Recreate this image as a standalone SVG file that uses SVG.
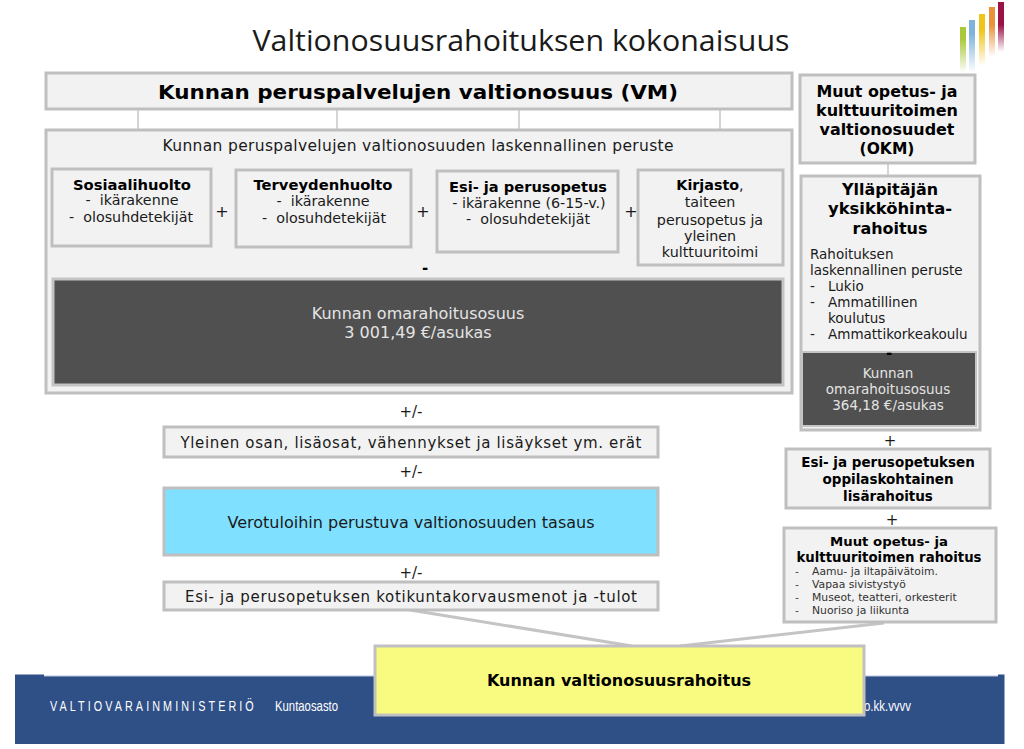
<svg xmlns="http://www.w3.org/2000/svg" width="1024" height="749" viewBox="0 0 1024 749">
<defs>
<linearGradient id="g1" x1="0" y1="0" x2="0" y2="1"><stop offset=".25" stop-color="#a9c93a"/><stop offset="1" stop-color="#a9c93a" stop-opacity="0"/></linearGradient>
<linearGradient id="g2" x1="0" y1="0" x2="0" y2="1"><stop offset=".25" stop-color="#7fb2dd"/><stop offset="1" stop-color="#7fb2dd" stop-opacity="0"/></linearGradient>
<linearGradient id="g3" x1="0" y1="0" x2="0" y2="1"><stop offset=".3" stop-color="#f0c419"/><stop offset="1" stop-color="#f0c419" stop-opacity="0"/></linearGradient>
<linearGradient id="g4" x1="0" y1="0" x2="0" y2="1"><stop offset=".35" stop-color="#e8923c"/><stop offset="1" stop-color="#e8923c" stop-opacity="0"/></linearGradient>
<linearGradient id="g5" x1="0" y1="0" x2="0" y2="1"><stop offset=".45" stop-color="#9b1246"/><stop offset="1" stop-color="#9b1246" stop-opacity="0"/></linearGradient>
</defs>
<style>
text{font-family:"DejaVu Sans",Verdana,sans-serif;fill:#1a1a1a;text-anchor:middle}
.box{fill:#f2f2f2;stroke:#bfbfbf;stroke-width:3}
.b{font-weight:bold;fill:#000}
.t14{font-size:14.3px}
.t13{font-size:13.5px}
.w{fill:#e4e4e4}
.s{text-anchor:start}
.conn{stroke:#c8c8c8;stroke-width:1.5;fill:none}
.wedge{stroke:#c4c4c4;stroke-width:3;fill:none}
.f{fill:#fff;text-anchor:start;font-family:"Liberation Sans",sans-serif}
</style>
<rect width="1024" height="749" fill="#fff"/>
<g id="logo">
<rect x="960" y="27" width="6" height="46" fill="url(#g1)"/>
<rect x="969" y="20" width="6" height="53" fill="url(#g2)"/>
<rect x="979" y="14" width="6" height="52" fill="url(#g3)"/>
<rect x="989" y="7" width="6" height="50" fill="url(#g4)"/>
<rect x="998" y="2" width="6" height="50" fill="url(#g5)"/>
</g>
<text id="title" x="521" y="51" font-size="29" textLength="537" lengthAdjust="spacingAndGlyphs" style="font-family:'Open Sans',sans-serif">Valtionosuusrahoituksen kokonaisuus</text>
<g id="footer">
<path d="M15 674.500H44V676H998V674.500H1004.500V744H15Z" fill="#2f4f87"/>
<path d="M44 676H998" stroke="#b9c6de" stroke-width="1"/>
<text class="f" transform="translate(50 711) scale(.72 1)" font-size="15" textLength="283">VALTIOVARAINMINISTERIÖ</text>
<text class="f" x="275" y="711" font-size="15" textLength="63" lengthAdjust="spacingAndGlyphs">Kuntaosasto</text>
<text class="f" x="864" y="711" font-size="15" textLength="47" lengthAdjust="spacingAndGlyphs">o.kk.vvvv</text>
</g>
<g id="connectors">
<path class="conn" d="M138 109V130M337 109V130M519 109V130M720 109V130M888 163V176"/>
<path class="wedge" d="M410 610L632 646M884 623L680 646"/>
</g>
<g id="n-top"><rect class="box" x="46" y="73" width="746" height="36"/>
<text class="b" x="418" y="99" font-size="20" textLength="520" lengthAdjust="spacingAndGlyphs">Kunnan peruspalvelujen valtionosuus (VM)</text></g>
<g id="n-base"><rect class="box" x="46" y="130" width="746" height="263"/>
<text x="418" y="151" font-size="15.500" textLength="511">Kunnan peruspalvelujen valtionosuuden laskennallinen peruste</text></g>
<g id="n-sos"><rect class="box" x="52" y="169" width="159" height="77"/>
<text class="b" x="132" y="190" font-size="14" textLength="118" lengthAdjust="spacingAndGlyphs">Sosiaalihuolto</text>
<text class="t14" x="132" y="205">-&#160; ikärakenne</text>
<text class="t14" x="131" y="222">-&#160; olosuhdetekijät</text></g>
<g id="n-ter"><rect class="box" x="236" y="170" width="175" height="77"/>
<text class="b" x="323" y="190" font-size="14" textLength="139" lengthAdjust="spacingAndGlyphs">Terveydenhuolto</text>
<text class="t14" x="323" y="206">-&#160; ikärakenne</text>
<text class="t14" x="324" y="223">-&#160; olosuhdetekijät</text></g>
<g id="n-esi"><rect class="box" x="437" y="171" width="181" height="81"/>
<text class="b" x="528" y="192" font-size="14" textLength="158" lengthAdjust="spacingAndGlyphs">Esi- ja perusopetus</text>
<text class="t14" x="529" y="208">- ikärakenne (6-15-v.)</text>
<text class="t14" x="528" y="224">-&#160; olosuhdetekijät</text></g>
<g id="n-kir"><rect class="box" x="638" y="170" width="145" height="95"/>
<text class="t14" x="710" y="190"><tspan class="b">Kirjasto</tspan>,</text>
<text class="t14" x="710" y="207">taiteen</text>
<text class="t14" x="710" y="225">perusopetus ja</text>
<text class="t14" x="710" y="241">yleinen</text>
<text class="t14" x="710" y="257">kulttuuritoimi</text></g>
<text x="222" y="217" font-size="16">+</text>
<text x="423" y="217" font-size="16">+</text>
<text x="631" y="217" font-size="16">+</text>
<text class="b" x="425" y="273" font-size="15">-</text>
<g id="n-oma"><rect x="53" y="279" width="730" height="106" fill="#505050" stroke="#c4c4c4" stroke-width="3"/>
<text class="w" x="418" y="319" font-size="16">Kunnan omarahoitusosuus</text>
<text class="w" x="418" y="338" font-size="16">3 001,49 €/asukas</text></g>
<text x="411" y="417" font-size="15">+/-</text>
<g id="n-yle"><rect class="box" x="164" y="427" width="494" height="30"/>
<text x="411" y="448" font-size="15" textLength="461">Yleinen osan, lisäosat, vähennykset ja lisäykset ym. erät</text></g>
<text x="411" y="477" font-size="15">+/-</text>
<g id="n-ver"><rect x="164" y="488" width="494" height="67" fill="#80e0ff" stroke="#bfbfbf" stroke-width="3"/>
<text x="411" y="528" font-size="16">Verotuloihin perustuva valtionosuuden tasaus</text></g>
<text x="411" y="578" font-size="15">+/-</text>
<g id="n-kot"><rect class="box" x="164" y="582" width="494" height="28"/>
<text x="411" y="602" font-size="15" textLength="452">Esi- ja perusopetuksen kotikuntakorvausmenot ja -tulot</text></g>
<g id="n-okm"><rect class="box" x="800" y="75" width="175" height="88"/>
<text class="b" x="887" y="97" font-size="15.500" textLength="141" lengthAdjust="spacingAndGlyphs">Muut opetus- ja</text>
<text class="b" x="887" y="116" font-size="15.500" textLength="142" lengthAdjust="spacingAndGlyphs">kulttuuritoimen</text>
<text class="b" x="887" y="135" font-size="15.500" textLength="135" lengthAdjust="spacingAndGlyphs">valtionosuudet</text>
<text class="b" x="887" y="154" font-size="15.500">(OKM)</text></g>
<g id="n-yks"><rect class="box" x="801" y="176" width="179" height="254"/>
<text class="b" x="890" y="195" font-size="15.500" textLength="96" lengthAdjust="spacingAndGlyphs">Ylläpitäjän</text>
<text class="b" x="890" y="214" font-size="15.500" textLength="124" lengthAdjust="spacingAndGlyphs">yksikköhinta-</text>
<text class="b" x="890" y="234" font-size="15.500" textLength="75" lengthAdjust="spacingAndGlyphs">rahoitus</text>
<text class="t13 s" x="810" y="259">Rahoituksen</text>
<text class="t13 s" x="810" y="275">laskennallinen peruste</text>
<text class="t13 s" x="810" y="291">-</text><text class="t13 s" x="828" y="291">Lukio</text>
<text class="t13 s" x="810" y="307">-</text><text class="t13 s" x="828" y="307">Ammatillinen</text>
<text class="t13 s" x="828" y="323">koulutus</text>
<text class="t13 s" x="810" y="339">-</text><text class="t13 s" x="828" y="339">Ammattikorkeakoulu</text></g>
<g id="n-oma2"><rect x="802" y="352" width="174" height="74" fill="#505050" stroke="#c4c4c4" stroke-width="2"/>
<text class="w t13" x="888" y="378">Kunnan</text>
<text class="w t13" x="888" y="394">omarahoitusosuus</text>
<text class="w t13" x="888" y="410">364,18 €/asukas</text></g>
<text class="b" x="889" y="358" font-size="15" style="clip-path:inset(0 0 4px 0)">-</text>
<text x="890" y="446" font-size="15">+</text>
<g id="n-lis"><rect class="box" x="786" y="449" width="204" height="59"/>
<text class="b t13" x="888" y="467">Esi- ja perusopetuksen</text>
<text class="b t13" x="888" y="484">oppilaskohtainen</text>
<text class="b t13" x="888" y="501">lisärahoitus</text></g>
<text x="892" y="525" font-size="15">+</text>
<g id="n-muu"><rect class="box" x="784" y="528" width="212" height="94"/>
<text class="b" x="889" y="546" font-size="13" textLength="118" lengthAdjust="spacingAndGlyphs">Muut opetus- ja</text>
<text class="b" x="889" y="562" font-size="13.300">kulttuuritoimen rahoitus</text>
<g font-size="10.800"><text class="s" x="795" y="575" style="fill:#444">-</text><text class="s" x="812" y="575" style="fill:#333">Aamu- ja iltapäivätoim.</text>
<text class="s" x="795" y="588" style="fill:#444">-</text><text class="s" x="812" y="588" style="fill:#333">Vapaa sivistystyö</text>
<text class="s" x="795" y="601" style="fill:#444">-</text><text class="s" x="812" y="601" style="fill:#333">Museot, teatteri, orkesterit</text>
<text class="s" x="795" y="614" style="fill:#444">-</text><text class="s" x="812" y="614" style="fill:#333">Nuoriso ja liikunta</text></g></g>
<g id="n-kok"><rect x="375" y="646" width="489" height="69" fill="#f9fb80" stroke="#c0c0c0" stroke-width="3"/>
<text class="b" x="619" y="686" font-size="16">Kunnan valtionosuusrahoitus</text></g>
</svg>
